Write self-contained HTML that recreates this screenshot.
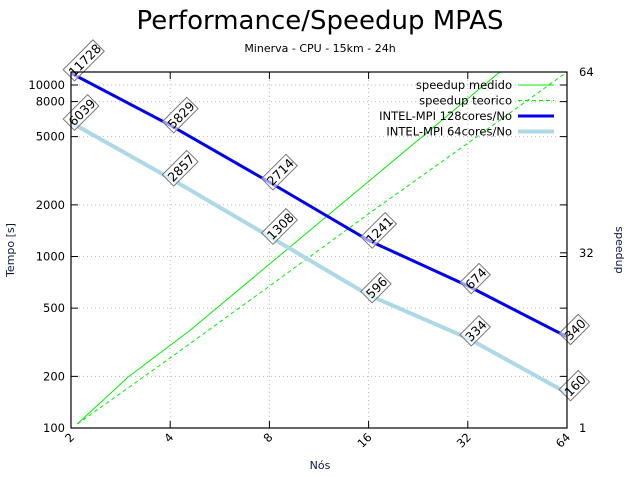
<!DOCTYPE html>
<html><head><meta charset="utf-8"><style>
body{margin:0;background:#fff;font-family:"DejaVu Sans","Liberation Sans",sans-serif}
svg text{font-family:"DejaVu Sans","Liberation Sans",sans-serif}
</style></head><body>
<svg id="chart" width="636" height="473">
<text x="320" y="29" font-size="26" text-anchor="middle">Performance/Speedup MPAS</text>
<text x="320" y="52" font-size="11" text-anchor="middle">Minerva - CPU - 15km - 24h</text>
<text transform="translate(14,250) rotate(-90)" font-size="11" text-anchor="middle" fill="#0a1a40">Tempo [s]</text>
<text transform="translate(616,250) rotate(90)" font-size="11" text-anchor="middle" fill="#0a1a40">speedup</text>
<text x="320" y="469" font-size="11" text-anchor="middle" fill="#0a1a40">Nós</text>
<g id="grid"></g><g id="series"></g><g id="axes"></g><g id="legend"></g>
</svg>
<script>
const nodes=[2,4,8,16,32,64];
const time128=[11728,5829,2714,1241,674,340];
const time64=[6039,2857,1308,596,334,160];
const yTicks=[100,200,500,1000,2000,5000,8000,10000];
const y2Ticks=[1,32,64];
const medidoNodes=[2.09,2.98,4.6,40];
const medidoSpeedup=[1.7,10,18.3,64];
const teoricoNodes=[2.09,4,8,16,32,64];
const teoricoSpeedup=[1.7,13.4,26.1,38.9,51.4,64];

const L=71,R=567,T=72,B=428;
const NS='http://www.w3.org/2000/svg';
const xs=n=>L+(Math.log2(n)-1)/5*(R-L);
const ys=v=>B-(Math.log10(v)-2)*171.5;
const y2s=v=>B-(v-1)/63*(B-T);
function mk(tag,at,parent){const e=document.createElementNS(NS,tag);for(const k in at)e.setAttribute(k,at[k]);document.getElementById(parent).appendChild(e);return e;}

yTicks.forEach(v=>{const y=ys(v);
 const g=mk('line',{x1:L,x2:R,y1:y,y2:y,stroke:'#bbb','stroke-dasharray':'1,3'},'grid');
 
 
 const t=mk('text',{x:L-6,y:y+4,'font-size':11.5,'text-anchor':'end'},'axes');t.textContent=v;
 
 
 mk('line',{x1:L,x2:L+7,y1:y,y2:y,stroke:'#000'},'axes');
 mk('line',{x1:R,x2:R-7,y1:y,y2:y,stroke:'#000'},'axes');
});
nodes.forEach(n=>{const x=xs(n);
 const g=mk('line',{x1:x,x2:x,y1:T,y2:B,stroke:'#bbb','stroke-dasharray':'1,3'},'grid');
 
 
 mk('line',{x1:x,x2:x,y1:B,y2:B-7,stroke:'#000'},'axes');
 mk('line',{x1:x,x2:x,y1:T,y2:T+7,stroke:'#000'},'axes');
 const t=mk('text',{transform:`translate(${x+4},${B+10}) rotate(-45)`,'font-size':11.5,'text-anchor':'end'},'axes');t.textContent=n;
 
 
});
y2Ticks.forEach(v=>{const y=y2s(v);
 mk('line',{x1:R,x2:R-7,y1:y,y2:y,stroke:'#000'},'axes');
 const t=mk('text',{x:R+12,y:y+4,'font-size':11.5},'axes');t.textContent=v;
 
 
});
const fr=mk('rect',{x:L,y:T,width:R-L,height:B-T,fill:'none',stroke:'#000','stroke-width':1.2},'axes');



const defs=mk('defs',{},'series');
const cp=document.createElementNS(NS,'clipPath');cp.setAttribute('id','clip');
const cr=document.createElementNS(NS,'rect');cr.setAttribute('x',L);cr.setAttribute('y',T);cr.setAttribute('width',R-L);cr.setAttribute('height',B-T);
cp.appendChild(cr);defs.appendChild(cp);

function poly(xa,ya,style,name){
 const pts=xa.map((x,i)=>x+','+ya[i]).join(' ');
 const p=mk('polyline',Object.assign({points:pts,fill:'none','clip-path':'url(#clip)'},style),'series');
 
 
}
poly(medidoNodes.map(xs),medidoSpeedup.map(y2s),{stroke:'#00ee00','stroke-width':1},'speedup-medido-line');
poly(teoricoNodes.map(xs),teoricoSpeedup.map(y2s),{stroke:'#00ee00','stroke-width':1,'stroke-dasharray':'4,3'},'speedup-teorico-line');
poly(nodes.map(xs),time64.map(ys),{stroke:'#add8e6','stroke-width':4},'intel-mpi-64cores-line');
poly(nodes.map(xs),time128.map(ys),{stroke:'#0000ee','stroke-width':3},'intel-mpi-128cores-line');

function labels(arr,name){
 nodes.forEach((n,i)=>{
  const x=xs(n),y=ys(arr[i]);
  const s=String(arr[i]);const w=s.length*7.6+4;
  const g=mk('g',{transform:`translate(${x},${y}) rotate(-45)`},'series');
  
  
  const r=document.createElementNS(NS,'rect');
  r.setAttribute('x',-3);r.setAttribute('y',-8);r.setAttribute('width',w);r.setAttribute('height',16);
  r.setAttribute('fill','#fff');r.setAttribute('fill-opacity','0.6');r.setAttribute('stroke','#777');
  g.appendChild(r);
  const t=document.createElementNS(NS,'text');
  t.setAttribute('x',-1);t.setAttribute('y',5);t.setAttribute('font-size',12.5);t.textContent=s;
  g.appendChild(t);
 });
}
labels(time128,'label-128cores');
labels(time64,'label-64cores');

const leg=[['speedup medido',{stroke:'#00ee00','stroke-width':1}],
 ['speedup teorico',{stroke:'#00ee00','stroke-width':1,'stroke-dasharray':'4,3'}],
 ['INTEL-MPI 128cores/No',{stroke:'#0000ee','stroke-width':3}],
 ['INTEL-MPI 64cores/No',{stroke:'#add8e6','stroke-width':4}]];
leg.forEach((l,i)=>{const y=85+i*15.5;
 const t=mk('text',{x:512,y:y+4,'font-size':11.5,'text-anchor':'end'},'legend');t.textContent=l[0];
 
 
 mk('line',Object.assign({x1:518,x2:554,y1:y,y2:y},l[1]),'legend');
});
</script>
</body></html>
